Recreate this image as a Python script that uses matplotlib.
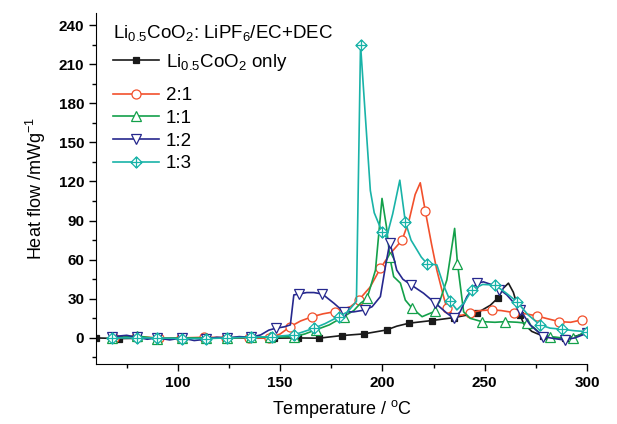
import matplotlib
matplotlib.use('Agg')
import matplotlib.pyplot as plt
from matplotlib.path import Path
from matplotlib.lines import Line2D
from matplotlib.ticker import MultipleLocator

plt.rcParams['font.family'] = ['Liberation Sans', 'DejaVu Sans']
plt.rcParams['mathtext.fontset'] = 'custom'
plt.rcParams['mathtext.rm'] = 'Liberation Sans'
plt.rcParams['mathtext.it'] = 'Liberation Sans:italic'
plt.rcParams['mathtext.bf'] = 'Liberation Sans:bold'

# Li0.5CoO2 only
blk_T = [60, 71, 80.5, 90, 101.5, 112.7, 124, 135.6, 146.8, 158.5, 169, 180, 191, 202, 207, 213,
         224, 235, 246, 252.7, 256.7, 259, 261.6, 264, 267.3, 269, 273, 278.4, 283, 289.3, 295, 300]
blk_v = [0, -0.5, -0.3, 0, 0, -0.3, 0, -0.2, -0.2, 0, -0.2, 1.8, 3.1, 6.1, 9, 11.3,
         13.3, 15.6, 18.9, 25, 31, 38, 42, 35, 17.6, 11, 5, 1.5, 0.3, -0.2, 1.5, 4.5]
blk_mT = [60, 71, 80.5, 90, 101.5, 112.7, 124, 135.6, 146.8, 158.5, 169, 180, 191, 202, 213,
          224, 235, 246, 256.7, 267.3, 278.4, 289.3, 300]
blk_mv = [0, -0.5, -0.3, 0, 0, -0.3, 0, -0.2, -0.2, 0, -0.2, 1.8, 3.1, 6.1, 11.3,
          13.3, 15.6, 18.9, 31, 17.6, 1.5, -0.2, 4.5]

# 2:1
red_T = [69, 79.5, 91, 101.5, 112.8, 123.4, 134.6, 144.5, 150, 155, 160, 165.7, 171, 177, 184.4,
         188.4, 194, 199, 204, 209.6, 213, 216, 218.5, 221, 224, 226.6, 229.9, 231.5, 234.8, 239,
         243, 248, 253.5, 258, 264.4, 270, 275.4, 280, 286.5, 292, 297.4, 300.3]
red_v = [0, 1, 0, 0, 0.5, 0.3, 0, -0.2, 3, 8.7, 13, 16.3, 18.5, 20.2, 24,
         29, 39, 53.4, 65, 75, 90, 110, 119, 97, 72, 52, 31.7, 22.8, 17, 17.5,
         19.4, 21, 21.5, 21, 19.4, 18.5, 16.9, 15, 12.5, 12, 13.8, 15]
red_mT = [69, 79.5, 91, 101.5, 112.8, 123.4, 134.6, 144.5, 155, 165.7, 177, 188.4, 199, 209.6,
          221, 231.5, 243, 253.5, 264.4, 275.4, 286.5, 297.4]
red_mv = [0, 1, 0, 0, 0.5, 0.3, 0, -0.2, 8.7, 16.3, 20.2, 29, 53.4, 75,
          97, 22.8, 19.4, 21.5, 19.4, 16.9, 12.5, 13.8]

# 1:1
grn_T = [68, 80, 90, 102, 114, 124, 135.6, 145, 156.7, 162, 167.3, 174, 181, 186, 189.3, 192.5,
         196.6, 199.8, 202, 203.6, 205.5, 208.8, 211.2, 214.5, 219.4, 225, 228, 231.5, 235.3,
         236.7, 239.7, 243, 248.6, 255, 260, 266, 270.9, 274, 277, 282, 288, 293.3, 300]
grn_v = [0, 1.5, -0.5, 0, 0, 0, 0.5, 0.5, 1, 3, 6.1, 10, 16.3, 21, 26.6, 30.4,
         52, 107, 85, 62, 47, 42, 29, 22.8, 16.3, 20, 28, 44.5, 84,
         57, 20, 15, 12.5, 12, 12.5, 12, 11.2, 8, 3.6, 1, 0, 0, 5]
grn_mT = [68, 80, 90, 102, 114, 124, 135.6, 145, 156.7, 167.3, 181, 192.5, 203.6, 214.5, 225.9,
          236.7, 248.6, 260, 270.9, 282, 293.3]
grn_mv = [0, 1.5, -0.5, 0, 0, 0, 0.5, 0.5, 1, 6.1, 16.3, 30.4, 62, 22.8, 21,
          57, 12.5, 12.5, 11.2, 1, 0]

# 1:2
blu_T = [68, 75, 80, 85, 90, 96, 102, 108, 113.7, 119, 124.2, 130, 135.6, 140.5, 144.5, 147.8,
         152, 155, 156.7, 159.2, 163, 166.5, 170.6, 176.3, 181.1, 186, 191.7, 195, 199, 201.5,
         203.6, 205, 207, 210, 214.1, 220.1, 225.9, 231.5, 234.8, 238, 241.3, 246.2, 249.4, 255,
         260.8, 267.3, 272.2, 278.7, 284, 288.4, 294, 300]
blu_v = [1, 2, 0.5, -1, 0, -1.5, 0, -2, -1, 0.5, 0, 1, 0.5, 2.3, 6, 7.4,
         8.5, 10, 33, 33.7, 34.8, 34.8, 33.7, 26.6, 20, 20, 21.5, 24, 31.7, 55,
         73, 65, 52, 45, 40.6, 34.3, 26.6, 19, 15.1, 20, 31.7, 42, 43, 40,
         33, 21.5, 10, 1, -0.5, -1.5, 0, 3.6]
blu_mT = [68, 80, 90, 102, 113.7, 124.2, 135.6, 147.8, 159.2, 170.6, 181.1, 191.7, 203.6, 214.1,
          225.9, 234.8, 246.2, 257, 267.3, 278.7, 289.3, 300]
blu_mv = [1, 0.5, 0, 0, -1, 0, 0.5, 7.4, 33.7, 33.7, 20, 21.5, 73, 40.6,
          26.6, 15.1, 42, 37, 21.5, 1, -1.5, 3.6]

# 1:3
cyn_T = [68, 80, 90, 102, 113.7, 124.2, 135.6, 146.2, 156.7, 166.5, 172, 178.6, 183, 187.3,
         189.3, 194.1, 196, 199.8, 202, 205, 208.5, 211.2, 214, 216.9, 219, 221.8, 226.6, 230,
         233.2, 236.4, 240, 243.8, 249, 255, 260, 265.7, 271, 277, 282, 287.6, 294, 300]
cyn_v = [0, 0, 0, -0.5, -0.5, 0, 0.5, 1, 2.3, 7.4, 11, 16.3, 20, 28,
         225, 113, 96, 81.5, 77, 95, 121, 89, 75, 67.5, 62, 57, 56, 40,
         28, 21.5, 27, 37, 41, 40.6, 35, 27.9, 18, 10, 7.5, 6.7, 5.5, 4.8]
cyn_mT = [68, 80, 90, 102, 113.7, 124.2, 135.6, 146.2, 156.7, 166.5, 178.6, 189.3, 199.8, 211.2,
          221.8, 233.2, 243.8, 255, 265.7, 277, 287.6, 300]
cyn_mv = [0, 0, 0, -0.5, -0.5, 0, 0.5, 1, 2.3, 7.4, 16.3, 225, 81.5, 89,
          57, 28, 37, 40.6, 27.9, 10, 6.7, 4.8]

labels = [r'Li$_{0.5}$CoO$_2$ only', '2:1', '1:1', '1:2', '1:3']
colors = ['#1a1a1a', '#f2502c', '#13a04a', '#26288e', '#19b3a8']

# crossed diamond marker
xdia = Path([(0, 1), (1, 0), (0, -1), (-1, 0), (0, 1), (0, 1), (0, -1), (-1, 0), (1, 0)],
            [Path.MOVETO, Path.LINETO, Path.LINETO, Path.LINETO, Path.CLOSEPOLY,
             Path.MOVETO, Path.LINETO, Path.MOVETO, Path.LINETO])
markers = ['s', 'o', '^', 'v', xdia]
msizes = [5, 6.5, 6.5, 6.5, 8]

series = [(blk_T, blk_v, blk_mT, blk_mv), (red_T, red_v, red_mT, red_mv),
          (grn_T, grn_v, grn_mT, grn_mv), (blu_T, blu_v, blu_mT, blu_mv),
          (cyn_T, cyn_v, cyn_mT, cyn_mv)]

fig = plt.figure(figsize=(6.17, 4.24), dpi=100)
ax = fig.add_axes([96 / 617, 1 - 364 / 424, (587 - 96) / 617, (364 - 13.3) / 424])

handles = []
for i, (T, v, mT, mv) in enumerate(series):
    c = colors[i]
    face = c if i == 0 else 'white'
    ax.plot(T, v, color=c, lw=1.2, zorder=2 + i)
    ax.plot(mT, mv, ls='none', marker=markers[i], ms=msizes[i], mec=c, mfc=face,
            mew=0.9, zorder=2 + i)
    handles.append(Line2D([], [], color=c, lw=1.2, marker=markers[i], ms=msizes[i],
                          mec=c, mfc=face, mew=0.9))

ax.set_xlim(60, 300)
ax.set_ylim(-20, 249)
ax.xaxis.set_major_locator(MultipleLocator(50))
ax.xaxis.set_minor_locator(MultipleLocator(25))
ax.yaxis.set_major_locator(MultipleLocator(30))
ax.yaxis.set_minor_locator(MultipleLocator(15))
ax.spines['top'].set_visible(False)
ax.spines['right'].set_visible(False)
ax.tick_params(which='major', length=5, width=1, direction='out')
ax.tick_params(which='minor', length=3, width=1, direction='out')
for lab in ax.get_xticklabels() + ax.get_yticklabels():
    lab.set_fontweight('bold')
    lab.set_fontsize(11)

ax.set_xlabel(r'Temperature / $^{\mathrm{o}}$C', fontsize=13, labelpad=6)
ax.set_ylabel(r'Heat flow /mWg$^{-1}$', fontsize=13, labelpad=8)

# legend in two parts: title + first entry, then the ratio entries
leg_kw = dict(loc='upper left', frameon=False, fontsize=13.5, title_fontsize=13.5,
              handlelength=2.45, handletextpad=0.35, labelspacing=0.3, borderaxespad=0.0)
leg1 = ax.legend(handles[:1], labels[:1], title=r'Li$_{0.5}$CoO$_2$: LiPF$_6$/EC+DEC',
                 bbox_to_anchor=(0.02, 0.993), **leg_kw)
leg1._legend_box.align = 'left'
leg1._legend_box.sep = 6
ax.add_artist(leg1)
leg2 = ax.legend(handles[1:], labels[1:], bbox_to_anchor=(0.02, 0.811), **leg_kw)

fig.savefig('out.png', dpi=100)
